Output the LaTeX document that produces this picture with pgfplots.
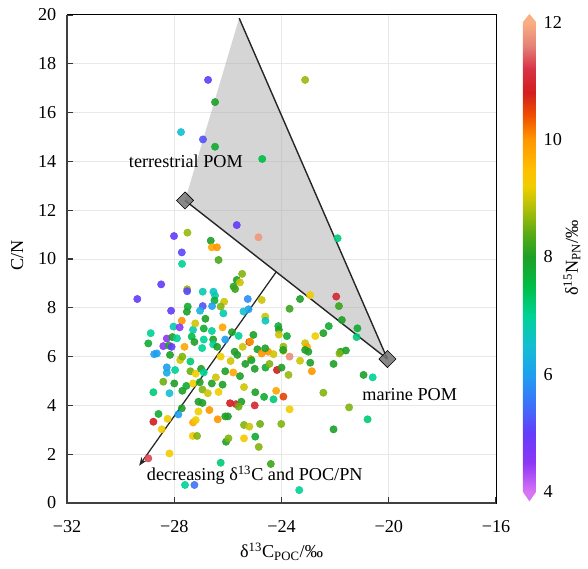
\documentclass[border=0pt]{standalone}
\usepackage{fontspec}
\setmainfont{Liberation Serif}
\usepackage{pgfplots}
\usepackage{pgfplotstable}
\pgfplotsset{compat=1.18}
\usetikzlibrary{arrows.meta}

% delta 15N colour scale, 4 to 12 permil
\pgfplotsset{colormap={dnmap}{
  rgb255(40)=(215,115,245)
  rgb255(45)=(140,55,245)
  rgb255(50)=(100,60,250)
  rgb255(55)=(60,115,250)
  rgb255(60)=(30,160,240)
  rgb255(65)=(20,190,210)
  rgb255(70)=(0,210,150)
  rgb255(75)=(0,190,70)
  rgb255(80)=(30,160,40)
  rgb255(84)=(90,170,20)
  rgb255(88)=(170,190,10)
  rgb255(92)=(240,205,0)
  rgb255(95)=(255,190,0)
  rgb255(100)=(255,150,0)
  rgb255(104)=(240,80,0)
  rgb255(108)=(210,30,30)
  rgb255(112)=(215,50,70)
  rgb255(116)=(230,130,120)
  rgb255(120)=(250,175,130)
}}
\definecolor{cbtop}{RGB}{250,175,130}
\definecolor{cbbot}{RGB}{215,115,245}

% d13C_POC, C/N, d15N_PN
\pgfplotstableread{
x y c
-26.74 17.34 5.0
-26.48 16.43 8.0
-27.75 15.20 6.5
-26.93 14.90 5.2
-26.48 14.60 7.8
-24.72 14.10 7.5
-23.12 17.34 8.7
-25.67 11.39 5.0
-24.86 10.89 11.8
-21.91 10.85 7.2
-28.01 10.94 5.0
-27.51 11.08 8.7
-27.72 10.27 5.1
-27.71 9.80 7.0
-26.64 10.75 8.0
-26.60 10.48 9.8
-26.41 10.48 10.0
-26.35 9.96 8.3
-25.47 9.39 8.6
-25.67 9.14 8.0
-25.55 9.04 9.0
-25.79 8.87 8.1
-25.73 8.77 8.2
-28.49 8.96 5.0
-29.38 8.36 5.0
-27.52 8.76 8.7
-27.52 8.68 5.1
-26.94 8.66 6.8
-26.54 8.66 6.6
-26.48 8.50 6.8
-26.50 8.30 7.8
-26.14 8.25 9.0
-26.27 8.05 8.6
-25.26 8.36 5.8
-26.59 8.07 6.0
-26.94 8.07 5.2
-27.04 7.88 6.3
-27.50 8.05 7.8
-27.53 7.84 8.0
-28.12 7.88 5.0
-26.17 7.77 6.8
-26.84 7.55 8.0
-25.23 7.94 6.0
-25.42 7.85 6.5
-27.72 7.47 10.0
-28.03 7.23 6.8
-27.80 7.20 4.5
-27.30 7.10 6.8
-27.22 7.36 9.0
-26.90 7.15 7.8
-26.60 7.05 7.0
-26.20 7.20 9.8
-25.85 7.00 8.0
-25.60 6.85 7.0
-28.88 6.96 7.0
-28.28 6.74 4.5
-28.07 6.80 8.0
-27.90 6.75 7.0
-27.35 6.82 7.5
-26.90 6.70 7.0
-26.55 6.70 8.0
-26.10 6.70 6.0
-28.97 6.54 7.8
-28.41 6.43 4.5
-28.20 6.45 8.0
-28.10 6.40 5.0
-27.62 6.40 9.8
-27.25 6.60 8.0
-26.96 6.35 7.0
-26.55 6.50 7.0
-26.40 6.40 8.0
-25.75 6.20 8.0
-25.45 6.40 9.0
-28.75 6.10 6.0
-28.65 6.13 6.0
-22.93 8.52 9.2
-23.31 8.36 8.0
-21.96 8.46 11.0
-21.86 8.07 8.2
-23.70 7.96 8.2
-21.75 7.50 8.0
-21.17 7.16 7.8
-22.24 7.25 7.8
-22.44 6.96 8.0
-22.74 6.84 9.2
-21.20 6.80 7.2
-24.74 8.32 9.0
-24.61 7.64 9.0
-24.60 7.47 6.7
-24.12 7.25 7.8
-24.10 7.10 8.0
-24.10 6.90 9.0
-23.80 6.84 7.8
-25.05 6.89 8.0
-25.20 6.60 10.8
-24.90 6.30 8.0
-24.50 6.20 10.0
-24.30 6.10 9.0
-23.93 6.41 8.7
-23.93 6.24 9.0
-23.12 6.55 9.0
-23.05 6.40 9.8
-23.00 6.20 8.0
-21.80 6.20 8.0
-21.60 6.25 8.0
-28.16 6.07 8.0
-28.28 5.56 6.0
-28.28 5.34 6.2
-27.78 5.86 9.0
-27.70 6.00 8.6
-27.40 5.80 7.2
-27.97 5.45 7.0
-27.40 5.40 8.5
-27.20 5.30 9.2
-27.00 5.50 8.0
-26.90 5.35 7.0
-28.41 4.97 8.5
-28.00 4.90 8.0
-28.18 4.50 6.5
-28.78 4.54 7.2
-27.70 4.60 8.0
-27.55 4.80 7.8
-27.30 4.90 9.2
-27.05 4.95 8.0
-26.95 4.65 8.6
-26.60 4.90 8.0
-26.75 4.50 9.0
-26.35 4.55 9.2
-27.10 4.15 8.0
-26.95 4.10 8.0
-26.69 3.81 10.0
-27.10 3.75 9.2
-27.72 3.88 8.0
-27.85 3.63 6.0
-28.59 3.65 7.8
-28.78 3.33 10.8
-28.25 3.45 9.2
-28.47 3.02 9.2
-27.30 3.30 9.8
-27.20 3.40 9.2
-26.38 3.43 10.0
-26.10 3.55 8.0
-26.00 3.55 8.0
-27.31 2.75 9.3
-27.15 2.75 8.6
-26.07 2.51 8.0
-25.98 2.65 8.6
-28.18 2.03 9.2
-28.97 1.83 11.3
-25.40 2.65 9.3
-25.40 3.20 8.6
-25.92 4.09 10.8
-25.70 4.05 11.0
-25.50 4.15 8.0
-25.60 3.95 8.5
-26.27 1.65 7.2
-27.60 0.74 7.0
-27.25 0.74 5.5
-23.34 0.53 7.0
-24.74 6.13 10.0
-23.94 6.27 8.0
-23.70 6.00 11.7
-23.31 5.83 9.0
-22.93 5.75 8.0
-22.06 5.70 8.0
-25.00 5.50 8.0
-24.60 5.55 7.8
-24.45 5.70 8.6
-24.17 5.45 10.8
-24.00 5.55 8.0
-23.74 5.25 8.7
-22.87 5.40 10.0
-22.44 4.52 8.6
-20.94 5.25 8.0
-20.60 5.15 7.0
-24.98 4.54 8.0
-24.65 4.35 7.8
-24.30 4.25 7.2
-24.20 4.60 9.8
-23.93 4.36 10.5
-25.00 4.00 11.0
-23.70 3.84 9.2
-21.48 3.92 8.6
-20.79 3.43 7.2
-24.80 3.24 8.5
-24.01 3.24 8.6
-22.06 3.02 8.0
-24.98 2.72 7.8
-24.85 2.30 8.6
-24.40 1.60 8.2
-25.17 6.61 10.0
-24.61 6.34 8.0
-23.12 6.27 8.0
-21.84 6.13 8.6
-25.15 5.90 10.0
-25.20 3.13 9.0
-26.27 6.00 9.2
-25.90 5.82 9.0
-25.65 6.07 8.0
-25.35 5.70 8.0
-25.12 5.85 7.8
-26.10 5.40 8.0
-25.80 5.35 9.8
-25.55 5.20 8.0
-26.45 5.15 9.0
-26.20 4.85 8.0
-25.40 4.75 9.0
}\cndata

\begin{document}
\begin{tikzpicture}[font=\fontsize{13}{15.6}\selectfont]
\begin{axis}[
  at={(0,0)}, anchor=south west,
  scale only axis, width=306.4pt, height=348.6pt,
  xmin=-32, xmax=-16, ymin=0, ymax=20,
  enlargelimits=false, clip=false,
  xtick={-32,-28,-24,-20,-16},
  xticklabels={−32,−28,−24,−20,−16},
  ytick={0,2,...,20},
  /pgf/number format/assume math mode=true,
  tick pos=left, tick align=inside,
  major tick length=4pt,
  tick style={black!80, line width=0.9pt},
  grid=major, grid style={black!9, line width=0.7pt},
  axis line style={black, line width=0.7pt},
  xticklabel style={anchor=center, yshift=-17.1pt},
  yticklabel style={xshift=-4.2pt},
  xlabel={δ\textsuperscript{13}C\textsubscript{POC}/‰},
  xlabel style={at={(axis description cs:0.5,-0.1)}, anchor=center},
  ylabel={C/N},
  ylabel style={at={(axis description cs:-0.116,0.508)}, anchor=center},
  colormap name=dnmap,
  point meta min=4, point meta max=12,
  colorbar,
  colorbar style={
    at={(parent axis.south east)}, anchor=south west,
    xshift=10.7pt, yshift=7.9pt,
    width=9.3pt, height=335.7pt,
    ytick={4,6,...,12},
    /pgf/number format/assume math mode=true,
    major tick length=0pt,
    axis line style={draw=none},
    yticklabel style={xshift=2pt},
    extra description/.code={
      \fill[cbtop] (axis description cs:0,1) -- (axis description cs:0.5,1.017)
        -- (axis description cs:1,1) -- cycle;
      \fill[cbbot] (axis description cs:0,0) -- (axis description cs:0.5,-0.02)
        -- (axis description cs:1,0) -- cycle;
    },
  },
]
% samples
\addplot[scatter, only marks, scatter src=explicit, mark=*, mark size=2.6pt,
  scatter/use mapped color={draw=mapped color, fill=mapped color},
  mark options={line width=0.4pt, opacity=0.9}]
  table[meta=c] {\cndata};

% end-member triangle
\addplot[draw=none, fill=black!33, fill opacity=0.5]
  coordinates {(-25.58,19.87) (-27.6,12.4) (-20.05,5.9)} -- cycle;
\addplot[black!85, line width=1pt] coordinates {(-25.58,19.87) (-20.05,5.9)};
\addplot[black!85, line width=1pt] coordinates {(-27.6,12.4) (-20.05,5.9)};
\addplot[black!85, line width=0.9pt, -{Stealth[length=6pt,width=4.5pt]}]
  coordinates {(-24.2,9.47) (-29.31,1.53)};
\addplot[only marks, mark=square*, mark size=4.3pt,
  mark options={rotate=45, fill=black!55, draw=none, fill opacity=0.85}]
  coordinates {(-27.6,12.4) (-20.05,5.9)};

% heavier left and bottom spines
\draw[black!75, line width=1.4pt] (rel axis cs:0,1) -- (rel axis cs:0,0) -- (rel axis cs:1,0);

\node at (axis cs:-27.57,13.99) {terrestrial POM};
\node at (axis cs:-19.22,4.43) {marine POM};
\node at (axis cs:-25.0,1.15) {decreasing δ\textsuperscript{13}C and POC/PN};
\coordinate (cblab) at (rel axis cs:1.177,0.502);
\end{axis}
\node[rotate=90] at (cblab) {δ\textsuperscript{15}N\textsubscript{PN}/‰};
\pgfresetboundingbox
\path[use as bounding box] (-47.9pt,-47.1pt) rectangle (372.1pt,359.3pt);
\end{tikzpicture}
\end{document}
